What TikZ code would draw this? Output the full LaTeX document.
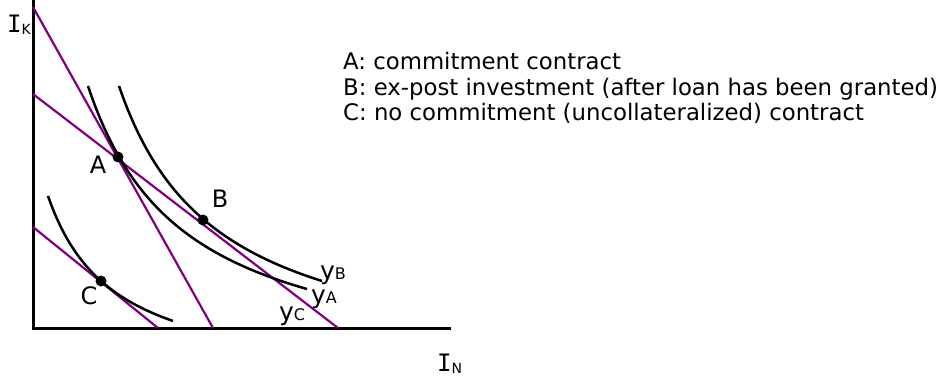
\documentclass[tikz,border=0pt]{standalone}
\usepackage{fontspec}
\setmainfont{DejaVu Sans}
\newfontfamily\monoI{DejaVu Sans Mono}
\definecolor{refpurple}{RGB}{128,0,128}
\tikzset{
  axisline/.style={line width=3pt, line cap=rect},
  budget/.style={refpurple, line width=2.2pt},
  isoq/.style={black, line width=2.5pt},
  dot/.style={circle, fill=black, inner sep=0pt, minimum size=11pt},
  lab/.style={inner sep=0pt, font=\fontsize{24}{26}\selectfont},
  legend/.style={anchor=base west, inner sep=0pt, font=\fontsize{22.8}{25}\selectfont},
  curvelab/.style={anchor=base west, inner sep=0pt}
}
\newcommand{\bigsz}{\fontsize{25}{27}\selectfont}
\newcommand{\smallsz}{\fontsize{16}{17}\selectfont}
\begin{document}
\begin{tikzpicture}[x=1pt, y=-1pt]
\useasboundingbox (0,0) rectangle (946,379);
% axes
\coordinate (top) at (33,1);
\coordinate (origin) at (33,328.5);
\coordinate (right) at (449,328.5);
\draw[axisline] (top) -- (origin) -- (right);
% budget lines
\coordinate (l1a) at (33,7);
\coordinate (l1b) at (213,328);
\coordinate (l2a) at (33,94);
\coordinate (l2b) at (338,328);
\coordinate (l3a) at (33,227);
\coordinate (l3b) at (158,328);
\draw[budget] (l1a) -- (l1b);
\draw[budget] (l2a) -- (l2b);
\draw[budget] (l3a) -- (l3b);
% isoquants
\draw[isoq] plot[domain=88:307, samples=80] (\x, {379.5 - 286.44*(100/(\x+9.6))});
\draw[isoq] plot[domain=119:322, samples=80] (\x, {376.7 - 289.54*(100/(\x-19.4))});
\draw[isoq] plot[domain=48:173, samples=60] (\x, {387.2 - 126.7*(100/(\x+18.25))});
% points
\node[dot] (A) at (118,157) {};
\node[dot] (B) at (203,220) {};
\node[dot] (C) at (101,281) {};
\node[lab] (Alab) at (98,165) {A};
\node[lab] (Blab) at (220,199) {B};
\node[lab] (Clab) at (89,296) {C};
% curve labels
\node[curvelab] (yB) at (320,280) {\bigsz y\smallsz B};
\node[curvelab] (yA) at (311,304) {\bigsz y\smallsz A};
\node[curvelab] (yC) at (279,321) {\bigsz y\smallsz C};
% axis labels
\node[curvelab] (IK) at (7,33) {{\monoI\fontsize{24}{26}\selectfont I}\raisebox{-1.5pt}{\fontsize{14}{16}\selectfont K}};
\node[curvelab] (IN) at (437,372) {{\monoI\fontsize{24}{26}\selectfont I}\raisebox{-1.5pt}{\fontsize{14}{16}\selectfont N}};
% legend
\node[legend] (legA) at (343,70) {A: commitment contract};
\node[legend] (legB) at (343,96) {B: ex-post investment (after loan has been granted)};
\node[legend] (legC) at (343,121) {C: no commitment (uncollateralized) contract};
\end{tikzpicture}
\end{document}
